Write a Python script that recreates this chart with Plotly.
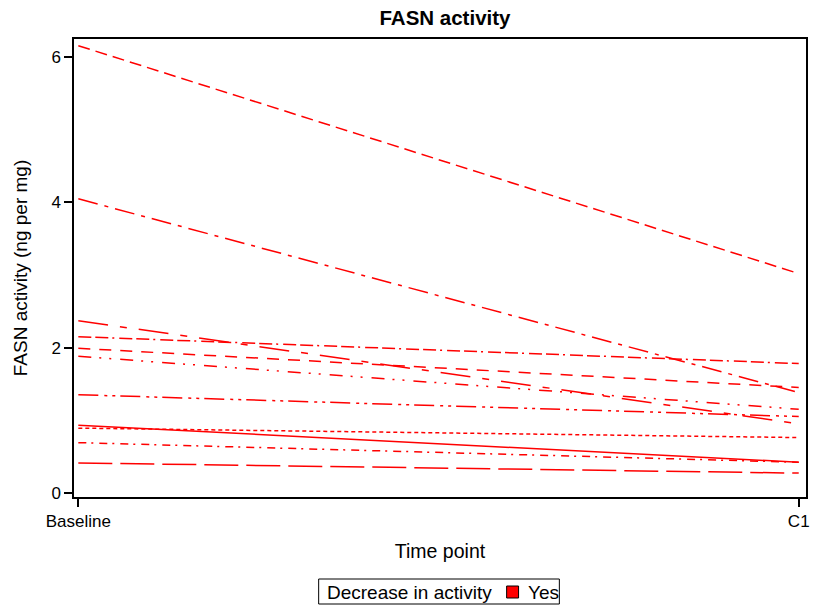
import plotly.graph_objects as go

# ---- data ----
time_points = ["Baseline", "C1"]
baseline_vals = [6.16, 4.05, 2.37, 2.15, 1.99, 1.88, 1.35, 0.93, 0.89, 0.69, 0.41]
c1_vals = [3.02, 1.38, 0.95, 1.78, 1.45, 1.15, 1.05, 0.42, 0.76, 0.42, 0.27]
y_ticks = [0, 2, 4, 6]
legend_title = "Decrease in activity"
legend_label = "Yes"

# ---- styles ----
line_dashes = [
    "12px,6px",
    "20px,7px,4px,7px",
    "30px,12px,7px,12px",
    "13px,4px,13px,4px,2px,5px",
    "12px,9px",
    "13px,8px,2px,8px,2px,9px",
    "20px,6px,3px,5px,3px,5px",
    "solid",
    "4px,3px",
    "8px,5px,2px,6px",
    "34px,8px",
]
RED = "rgb(255,0,0)"
FONT = "Liberation Sans, Arial, sans-serif"

W, H = 820, 606
ML, MR, MT, MB = 74, 10, 39, 109
PW, PH = W - ML - MR, H - MT - MB


def px_x(px):  # pixel -> paper x
    return (px - ML) / PW


def px_y(py):  # pixel -> paper y
    return (H - MB - py) / PH


fig = go.Figure()
xpos = [0, 1]
for i, (b, c) in enumerate(zip(baseline_vals, c1_vals)):
    fig.add_trace(go.Scatter(
        x=xpos, y=[b, c], mode="lines", name=legend_label,
        line=dict(color=RED, width=1.5, dash=line_dashes[i % len(line_dashes)]),
        showlegend=False, hoverinfo="skip",
    ))

# legend box (drawn as shapes + text to match the reference's compact key)
shapes = [
    dict(type="rect", xref="paper", yref="paper",
         x0=px_x(320), x1=px_x(562), y0=px_y(604), y1=px_y(579),
         line=dict(color="black", width=1), fillcolor="white", layer="above"),
    dict(type="rect", xref="paper", yref="paper",
         x0=px_x(509), x1=px_x(521), y0=px_y(598), y1=px_y(586),
         line=dict(color="black", width=1), fillcolor=RED, layer="above"),
]
annotations = [
    dict(text=legend_title, xref="paper", yref="paper", x=px_x(326), y=px_y(592),
         xanchor="left", yanchor="middle", showarrow=False,
         font=dict(size=19, family=FONT, color="black")),
    dict(text=legend_label, xref="paper", yref="paper", x=px_x(528), y=px_y(592),
         xanchor="left", yanchor="middle", showarrow=False,
         font=dict(size=19, family=FONT, color="black")),
]

fig.update_layout(
    width=W, height=H,
    margin=dict(l=ML, r=MR, t=MT, b=MB),
    paper_bgcolor="white", plot_bgcolor="white",
    font=dict(family=FONT, color="black", size=17),
    showlegend=False,
    title=dict(text="<b>FASN activity</b>", x=px_x(447), xref="paper", xanchor="center",
               y=1 - 18 / H, yref="container", yanchor="middle",
               font=dict(size=20.5, family=FONT)),
    xaxis=dict(
        range=[-0.006, 1.0101], tickvals=xpos, ticktext=time_points,
        ticks="outside", ticklen=8, tickwidth=1.5, tickcolor="black",
        showline=True, linecolor="black", linewidth=1.5, mirror=True,
        showgrid=False, zeroline=False,
        tickfont=dict(size=17),
        title=dict(text="Time point", font=dict(size=19.5), standoff=14),
    ),
    yaxis=dict(
        range=[-0.059, 6.252], tickvals=y_ticks,
        ticks="outside", ticklen=8, tickwidth=1.5, tickcolor="black",
        showline=True, linecolor="black", linewidth=1.5, mirror=True,
        showgrid=False, zeroline=False,
        tickfont=dict(size=17),
        title=dict(text="FASN activity (ng per mg)", font=dict(size=19), standoff=19),
    ),
    shapes=shapes,
    annotations=annotations,
)

fig.write_html("out.html", config={"displayModeBar": False},
               post_script="document.body.style.margin='0px';")
